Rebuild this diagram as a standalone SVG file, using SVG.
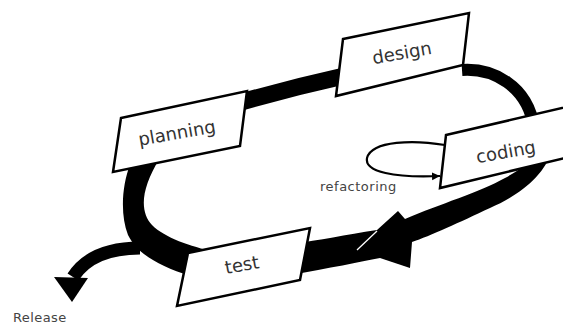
<svg xmlns="http://www.w3.org/2000/svg" width="563" height="324" viewBox="0 0 563 324">
<defs>
<style>
.box{fill:#fff;stroke:#000;stroke-width:2.5;stroke-linejoin:miter}
.lbl{font-family:"DejaVu Sans",sans-serif;font-size:18px;fill:#333;text-anchor:middle}
.small{font-family:"DejaVu Sans",sans-serif;font-size:13px;fill:#444}
.band{fill:#000;stroke:none}
.thick{fill:none;stroke:#000;stroke-linecap:butt}
</style>
<marker id="ah" markerUnits="userSpaceOnUse" markerWidth="9" markerHeight="9" refX="8" refY="4" orient="auto">
<path d="M0,0 L8,4 L0,8 Z" fill="#000"/>
</marker>
</defs>
<rect width="563" height="324" fill="#fff"/>
<g id="connectors">
<path class="thick" d="M 238 103 Q 290 88 344 76" stroke-width="17"/>
<path class="thick" d="M 462 70 C 492 68, 528 85, 534 128" stroke-width="12"/>
<path class="band" d="M 552 150 C 545 175, 520 195, 490 208 C 460 222, 430 236, 412 242 L 410 268 L 380 258 C 360 262, 330 268, 290 275 L 292 244 C 320 240, 345 235, 377 230 L 398 211 L 405 219 C 440 204, 480 192, 505 178 C 520 170, 530 162, 538 150 Z"/>
<line x1="357" y1="250" x2="377" y2="231" stroke="#fff" stroke-width="1.3"/>
<path class="band" d="M 130 165 C 122 185, 120 215, 128 235 C 138 255, 160 266, 190 276 L 215 252 C 190 246, 165 238, 152 225 C 140 212, 140 190, 160 158 Z"/>
<path class="thick" d="M 140 248 C 115 248, 88 254, 73 277" stroke-width="13"/>
<polygon class="band" points="54,277 88,278 72,302"/>
<path d="M 445 145 C 415 140, 372 140, 367 158 C 364 172, 395 178, 440 176" fill="none" stroke="#000" stroke-width="2.2" marker-end="url(#ah)"/>
</g>
<g id="planning">
<polygon class="box" points="121,118 247,91 240,146 113,172"/>
<text class="lbl" x="178" y="139" transform="rotate(-10 178 139)">planning</text>
</g>
<g id="design">
<polygon class="box" points="343,39 469,13 463,65 336,96"/>
<text class="lbl" x="403" y="59" transform="rotate(-10 403 59)">design</text>
</g>
<g id="coding">
<polygon class="box" points="446,135 575,105 569,157 440,188"/>
<text class="lbl" x="507" y="158" transform="rotate(-10 507 158)">coding</text>
</g>
<g id="test">
<polygon class="box" points="188,253 310,228 300,280 177,306"/>
<text class="lbl" x="243" y="271" transform="rotate(-10 243 271)">test</text>
</g>
<g id="labels">
<text class="small" x="320" y="191" letter-spacing="0.5">refactoring</text>
<text class="small" x="13" y="322" letter-spacing="0.4">Release</text>
</g>
</svg>
